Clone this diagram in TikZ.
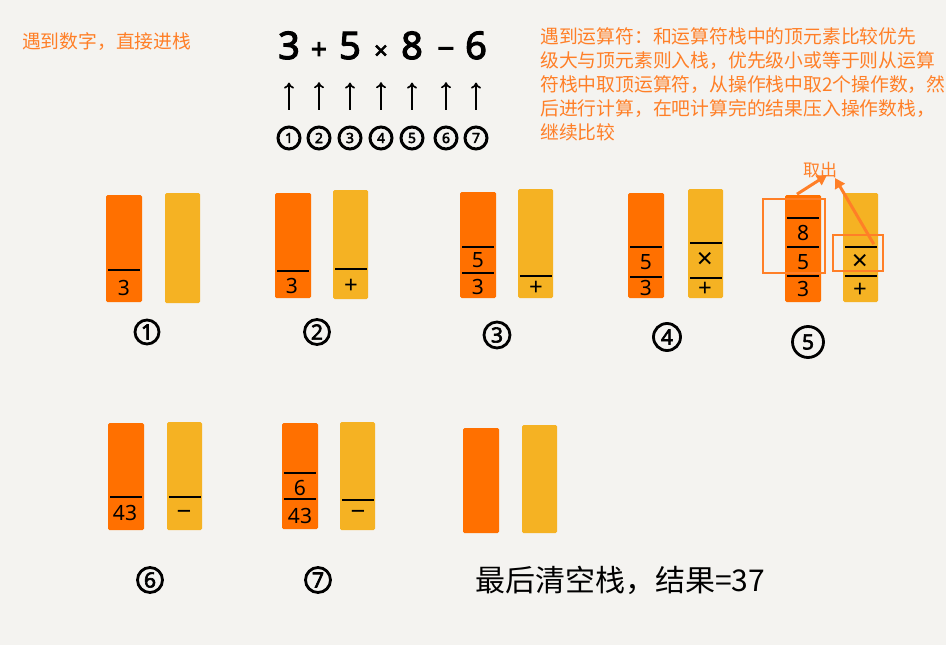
\documentclass[tikz,border=0pt]{standalone}
\usepackage{fontspec}
\setmainfont{Noto Sans}
\newfontfamily\heavy{Noto Sans}[FakeBold=3]
\newfontfamily\cjk{Noto Sans CJK SC}
\usetikzlibrary{arrows.meta}

\definecolor{paper}{HTML}{F4F3F0}
\definecolor{numfill}{HTML}{FF7000}
\definecolor{opfill}{HTML}{F5B223}
\definecolor{remark}{HTML}{FF7F27}

\tikzset{
  numstack/.style={fill=numfill, rounded corners=1.5pt},
  opstack/.style={fill=opfill, rounded corners=1.5pt},
  divider/.style={line width=1.5pt, black},
  entry/.style={inner sep=0pt, font=\fontsize{21}{21}\selectfont},
  stepno/.style={circle, draw=black, line width=2.8pt, inner sep=0pt, minimum size=23pt, font=\heavy\fontsize{21}{21}\selectfont},
  token/.style={inner sep=0pt, anchor=base},
  upmark/.style={-{To[length=6pt,width=10pt]}, line width=1.7pt, shorten <=16pt, shorten >=23pt},
  remarktext/.style={text=remark, font=\cjk\fontsize{18.8}{24}\selectfont, align=left, inner sep=0pt},
  pickbox/.style={draw=remark, line width=1.6pt, inner sep=0pt},
  pick/.style={remark, line width=3pt, -{Triangle[length=10pt,width=11pt]}},
}

\begin{document}
\begin{tikzpicture}[x=1pt, y=-1pt]
\fill[paper] (0,0) rectangle (946,645);
\useasboundingbox (0,0) rectangle (946,645);

% rules
\node[remarktext, anchor=west] (rulenum) at (22,42) {遇到数字，直接进栈};
\node[remarktext, anchor=north west] (ruleop) at (540,27) {遇到运算符：和运算符栈中的顶元素比较优先\\
级大与顶元素则入栈，优先级小或等于则从运算\\
符栈中取顶运算符，从操作栈中取2个操作数，然\\
后进行计算，在吧计算完的结果压入操作数栈，\\
继续比较};

% expression and scan order
\foreach \x/\t/\s [count=\i] in {289/3/38, 319/+/28, 350/5/38, 381/×/24, 412/8/38, 446/−/30, 476/6/38} {
  \node[token, font=\heavy\fontsize{\s}{\s}\selectfont] (tok\i) at (\x,59) {\t};
  \node[stepno, line width=3pt, minimum size=22pt, font=\heavy\fontsize{14}{14}\selectfont] (scan\i) at (\x,138) {\i};
  \draw[upmark] (scan\i) -- (tok\i.south);
}

% operand stacks and operator stacks
\foreach \x/\t/\b in {106/195/302, 275/193/298, 460/192/298, 628/193/298, 785/195/302, 108/423/530, 282/423/529, 463/428/533}
  \fill[numstack] (\x,\t) rectangle (\x+36,\b);
\foreach \x/\t/\b in {165/193/303, 333/190/299, 518/189/298, 688/189/298, 843/193/302, 167/422/530, 340/422/530, 522/425/533}
  \fill[opstack] (\x,\t) rectangle (\x+35,\b);

% slots
\foreach \x/\y in {106/270, 275/271, 460/247, 460/273, 628/247, 628/277, 785/218, 785/247, 785/276, 108/497, 282/473, 282/499,
                   333/269, 518/276, 688/243, 688/278, 843/247, 843/276, 167/497, 340/500}
  \draw[divider] (\x+2,\y) -- (\x+34,\y);

\foreach \x/\y/\t/\s [count=\k] in {124/288/3/21, 292/286/3/21, 351/286/+/24, 478/260/5/21, 478/287/3/21, 536/288/+/24,
    646/262/5/21, 646/288/3/21, 705/260/×/28, 705/289/+/24, 803/233/8/21, 803/262/5/21, 803/289/3/21, 860/262/×/28, 860/290/+/24,
    125/513/43/21, 184/515/−/26, 300/488/6/21, 300/516/43/21, 358/515/−/26}
  \node[entry, font=\fontsize{\s}{\s}\selectfont] (entry\k) at (\x,\y) {\t};

% steps
\foreach \x/\y/\d [count=\i] in {147/332/24, 317/332/25, 497/335/26, 667/337/27, 808/342/31, 150/580/25, 318/580/25}
  \node[stepno, minimum size=\d pt] (step\i) at (\x,\y) {\i};

% pop for step 5
\node[pickbox, minimum width=62pt, minimum height=74pt] (pickleft) at (794,236) {};
\node[pickbox, minimum width=50pt, minimum height=36pt] (pickright) at (858,253) {};
\node[remarktext, font=\cjk\fontsize{17}{17}\selectfont] (takeout) at (820,170) {取出};
\draw[pick] ([shift={(3pt,4pt)}]pickleft.north) -- ([shift={(7pt,3pt)}]takeout.south);
\draw[pick] ([shift={(-10pt,-10pt)}]pickright.north east) -- ([xshift=15pt]takeout.south);

\node[inner sep=0pt, font=\cjk\fontsize{30}{30}\selectfont] (result) at (620,580) {最后清空栈，结果=37};
\end{tikzpicture}
\end{document}
